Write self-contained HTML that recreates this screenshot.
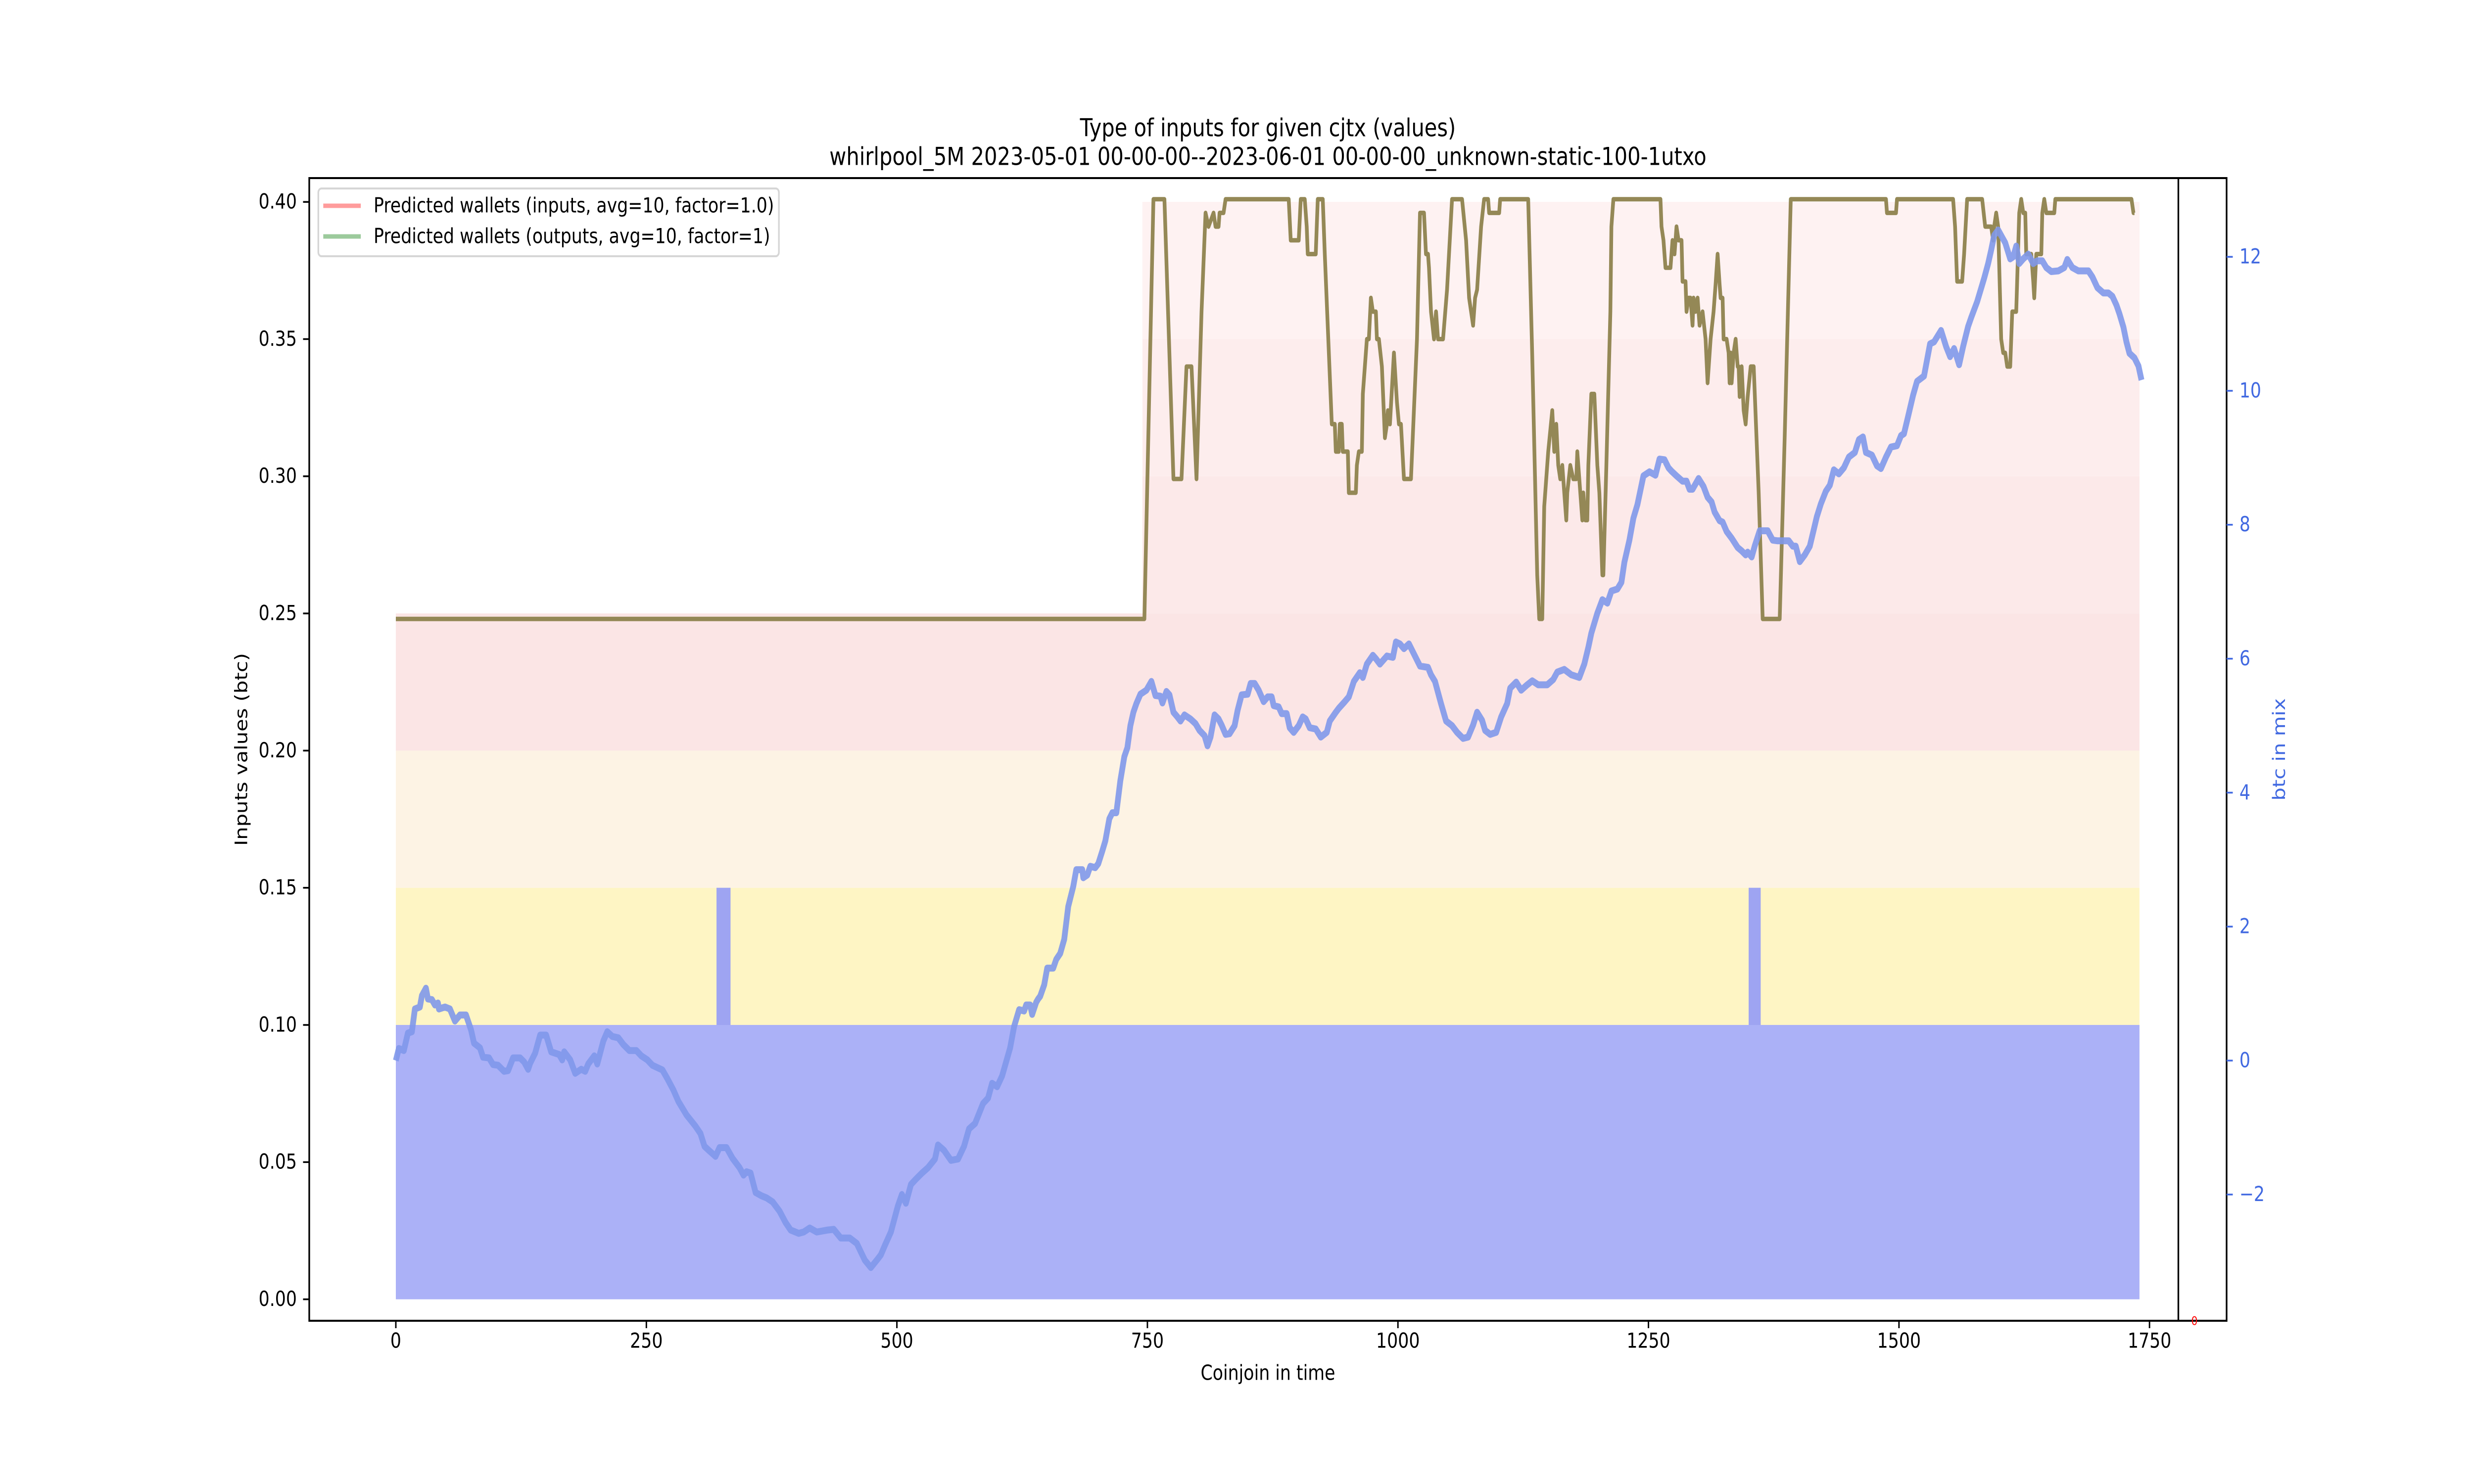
<!DOCTYPE html>
<html><head><meta charset="utf-8"><title>Type of inputs for given cjtx (values)</title>
<style>html,body{margin:0;padding:0;background:#fff;overflow:hidden;width:100%;height:100%}svg{display:block;width:100vw;height:100vh}text{font-family:"DejaVu Sans","Liberation Sans",sans-serif}</style>
</head><body>
<svg id="chart" xmlns="http://www.w3.org/2000/svg" viewBox="0 0 6000 3000" preserveAspectRatio="none">
<rect x="0" y="0" width="6000" height="3000" fill="#fff"/>
<g id="bars"></g>
<g id="lines"></g>
<g id="axes"></g>
<g>
<text x="3075" y="262" font-size="50" text-anchor="middle" dominant-baseline="middle">Type of inputs for given cjtx (values)</text>
<text x="3075" y="320" font-size="50" text-anchor="middle" dominant-baseline="middle">whirlpool_5M 2023-05-01 00-00-00--2023-06-01 00-00-00_unknown-static-100-1utxo</text>
</g>
<text x="3075" y="2778" font-size="41.7" text-anchor="middle" dominant-baseline="middle">Coinjoin in time</text>
<text x="0" y="0" font-size="41.7" text-anchor="middle" dominant-baseline="middle" transform="translate(588,1515) rotate(-90)">Inputs values (btc)</text>
<text x="0" y="0" font-size="41.7" fill="#4169e1" text-anchor="middle" dominant-baseline="middle" transform="translate(5530,1515) rotate(-90)">btc in mix</text>
<g>
<rect x="772" y="381" width="1117" height="137" rx="8" fill="#fff" fill-opacity="0.8" stroke="#d6d6d6" stroke-width="4"/>
<g>
<line x1="784" y1="416" x2="875" y2="416" stroke="#ff9c9c" stroke-width="9"/>
<text x="906" y="418" font-size="41.7" dominant-baseline="middle">Predicted wallets (inputs, avg=10, factor=1.0)</text>
</g>
<g>
<line x1="784" y1="478" x2="875" y2="478" stroke="#9cca9c" stroke-width="9"/>
<text x="906" y="480" font-size="41.7" dominant-baseline="middle">Predicted wallets (outputs, avg=10, factor=1)</text>
</g>
</g>
</svg>
<script>
// ---- data ----
const xTicks = [0, 250, 500, 750, 1000, 1250, 1500, 1750];
const yTicks = [0.00, 0.05, 0.10, 0.15, 0.20, 0.25, 0.30, 0.35, 0.40];
const y2Ticks = [-2, 0, 2, 4, 6, 8, 10, 12];
const barBottoms = [0.00, 0.10, 0.15, 0.20, 0.25, 0.30, 0.35];
const barTops = [0.10, 0.15, 0.20, 0.25, 0.30, 0.35, 0.40];
const barStarts = [0, 0, 0, 0, 745, 745, 745];
const barEnds = [1740, 1740, 1740, 1740, 1740, 1740, 1740];
const extraBarStarts = [320, 1350];
const extraBarEnds = [334, 1362];
const extraBarBottoms = [0.10, 0.10];
const extraBarTops = [0.15, 0.15];
const walletX = [0,747,756,767,776,784,789,794,799,804,808,811,816,818,821,822,826,828,891,893,901,903,907,909,910,918,919,920,925,927,934,937,938,941,942,944,945,950,951,958,959,961,964,965,969,971,973,975,978,979,981,984,987,989,990,992,996,999,1001,1003,1006,1013,1019,1022,1026,1028,1030,1031,1033,1036,1038,1040,1045,1049,1054,1064,1068,1071,1075,1077,1079,1083,1086,1090,1091,1101,1102,1130,1134,1139,1141,1144,1146,1150,1154,1156,1158,1160,1162,1164,1166,1168,1169,1172,1175,1178,1179,1182,1184,1185,1187,1189,1190,1193,1196,1199,1201,1204,1205,1208,1212,1213,1215,1262,1263,1265,1267,1272,1274,1276,1278,1280,1283,1284,1287,1288,1290,1292,1294,1295,1297,1299,1301,1304,1307,1309,1312,1315,1317,1319,1321,1322,1324,1325,1328,1330,1331,1332,1333,1335,1337,1339,1340,1341,1343,1345,1347,1349,1352,1355,1360,1364,1381,1386,1392,1487,1488,1497,1498,1554,1556,1558,1563,1565,1568,1583,1586,1592,1594,1595,1597,1599,1602,1604,1606,1608,1611,1613,1617,1620,1622,1624,1626,1627,1632,1634,1635,1637,1642,1643,1645,1647,1655,1656,1732,1734,1735];
const walletY = [.248,.248,.401,.401,.299,.299,.340,.340,.299,.360,.396,.391,.396,.391,.391,.396,.396,.401,.401,.386,.386,.401,.401,.391,.381,.381,.391,.401,.401,.381,.319,.319,.309,.309,.319,.319,.309,.309,.294,.294,.304,.309,.309,.330,.350,.350,.365,.360,.360,.350,.350,.340,.314,.319,.324,.319,.345,.327,.319,.319,.299,.299,.350,.396,.396,.381,.381,.376,.360,.350,.360,.350,.350,.368,.401,.401,.386,.365,.355,.365,.368,.391,.401,.401,.396,.396,.401,.401,.344,.264,.248,.248,.289,.309,.324,.309,.319,.304,.299,.304,.294,.284,.294,.304,.299,.299,.309,.294,.284,.294,.284,.284,.304,.330,.330,.304,.294,.264,.264,.304,.360,.391,.401,.401,.391,.386,.376,.376,.386,.381,.391,.386,.386,.371,.371,.360,.365,.365,.355,.365,.360,.365,.355,.360,.350,.334,.350,.360,.370,.381,.370,.365,.365,.350,.350,.345,.334,.345,.334,.345,.350,.340,.340,.329,.340,.324,.319,.329,.340,.340,.294,.248,.248,.315,.401,.401,.396,.396,.401,.401,.391,.371,.371,.381,.401,.401,.391,.391,.386,.391,.396,.391,.350,.345,.345,.340,.340,.360,.360,.396,.401,.396,.396,.381,.381,.371,.365,.381,.381,.396,.401,.396,.396,.401,.401,.396,.396];
const mixX = [0,3,8,12,16,19,24,26,30,32,36,39,42,43,49,54,59,64,70,75,78,84,87,93,97,102,108,112,117,124,128,132,134,139,144,150,155,163,166,168,174,179,185,189,192,198,201,207,211,216,222,227,233,240,245,251,256,266,271,277,282,290,299,304,308,313,319,323,330,336,343,347,350,354,359,365,370,376,383,389,394,402,407,413,420,431,437,444,453,460,468,474,481,484,488,494,501,505,509,514,519,525,531,538,541,547,554,561,567,572,578,586,591,595,600,605,613,617,622,627,629,633,635,639,641,643,647,650,656,659,663,667,671,676,679,685,686,690,693,698,701,705,708,712,715,719,723,727,730,733,736,739,743,749,754,758,763,765,769,772,776,780,783,787,793,798,802,807,810,813,817,821,824,828,832,837,840,844,850,853,857,861,866,870,874,876,881,884,889,892,896,901,905,908,912,918,923,929,932,938,941,947,951,956,962,965,969,975,978,982,989,995,998,1002,1006,1011,1017,1022,1030,1033,1037,1043,1048,1054,1059,1065,1070,1075,1079,1084,1087,1092,1098,1103,1109,1112,1118,1123,1129,1134,1140,1149,1155,1159,1166,1173,1181,1186,1190,1193,1199,1204,1209,1213,1219,1223,1226,1231,1235,1239,1245,1251,1257,1261,1266,1270,1273,1278,1284,1288,1291,1294,1300,1305,1309,1313,1316,1321,1324,1328,1333,1339,1343,1347,1349,1353,1356,1361,1369,1374,1379,1390,1394,1397,1401,1406,1411,1415,1418,1422,1427,1431,1435,1440,1445,1450,1456,1460,1464,1467,1473,1478,1482,1487,1492,1498,1502,1505,1509,1514,1518,1525,1531,1535,1542,1547,1551,1555,1560,1564,1569,1572,1578,1585,1589,1592,1595,1599,1603,1606,1611,1614,1617,1620,1624,1629,1634,1638,1643,1647,1652,1659,1665,1668,1673,1679,1689,1693,1698,1704,1709,1713,1717,1720,1724,1727,1730,1735,1739,1742];
const mixY = [0.0,0.18,0.15,0.41,0.43,0.77,0.80,0.97,1.08,0.92,0.91,0.83,0.86,0.77,0.80,0.77,0.59,0.68,0.68,0.46,0.26,0.19,0.05,0.04,-0.06,-0.07,-0.16,-0.15,0.04,0.04,-0.02,-0.13,-0.04,0.11,0.38,0.38,0.13,0.09,0.01,0.13,0.01,-0.19,-0.13,-0.16,-0.05,0.07,-0.05,0.29,0.43,0.36,0.34,0.24,0.15,0.15,0.07,0.01,-0.07,-0.14,-0.27,-0.44,-0.61,-0.81,-0.98,-1.09,-1.28,-1.35,-1.43,-1.30,-1.30,-1.46,-1.60,-1.71,-1.66,-1.68,-1.97,-2.02,-2.05,-2.11,-2.25,-2.42,-2.53,-2.58,-2.56,-2.50,-2.56,-2.53,-2.52,-2.65,-2.65,-2.73,-2.98,-3.09,-2.96,-2.90,-2.76,-2.56,-2.17,-2.00,-2.13,-1.85,-1.77,-1.68,-1.60,-1.47,-1.26,-1.34,-1.49,-1.47,-1.28,-1.02,-0.94,-0.64,-0.56,-0.34,-0.39,-0.23,0.19,0.51,0.76,0.74,0.83,0.83,0.69,0.87,0.92,0.96,1.13,1.38,1.38,1.51,1.60,1.81,2.30,2.60,2.85,2.85,2.73,2.77,2.90,2.88,2.94,3.13,3.28,3.61,3.70,3.70,4.18,4.54,4.67,5.00,5.20,5.33,5.47,5.53,5.66,5.45,5.44,5.34,5.51,5.46,5.20,5.13,5.07,5.16,5.10,5.03,4.93,4.85,4.70,4.83,5.16,5.10,5.01,4.87,4.88,5.00,5.23,5.46,5.47,5.63,5.63,5.53,5.36,5.43,5.43,5.30,5.28,5.18,5.18,4.97,4.90,5.00,5.13,5.10,4.97,4.95,4.83,4.90,5.07,5.20,5.26,5.36,5.43,5.66,5.79,5.72,5.92,6.05,6.00,5.92,6.04,6.02,6.25,6.22,6.15,6.22,6.04,5.89,5.87,5.76,5.66,5.33,5.07,5.00,4.90,4.81,4.83,5.01,5.20,5.08,4.93,4.87,4.90,5.13,5.33,5.56,5.65,5.53,5.61,5.67,5.61,5.61,5.69,5.80,5.84,5.76,5.72,5.92,6.17,6.38,6.68,6.88,6.83,7.01,7.04,7.14,7.44,7.77,8.10,8.30,8.73,8.79,8.74,8.98,8.97,8.85,8.80,8.73,8.65,8.65,8.53,8.53,8.69,8.57,8.41,8.34,8.19,8.06,8.04,7.90,7.80,7.66,7.61,7.55,7.59,7.52,7.68,7.91,7.91,7.77,7.76,7.76,7.68,7.68,7.45,7.55,7.68,7.93,8.12,8.31,8.50,8.59,8.82,8.76,8.85,9.01,9.08,9.27,9.31,9.08,9.04,8.88,8.84,9.01,9.16,9.18,9.33,9.36,9.61,9.93,10.14,10.22,10.70,10.73,10.90,10.66,10.51,10.63,10.39,10.66,10.96,11.09,11.33,11.68,11.90,12.10,12.32,12.40,12.29,12.21,11.97,12.00,12.16,11.90,11.97,12.04,11.90,11.94,11.94,11.84,11.78,11.79,11.84,11.96,11.84,11.79,11.79,11.70,11.54,11.46,11.46,11.41,11.28,11.15,10.95,10.73,10.56,10.49,10.37,10.16];

// ---- scales ----
const NS = 'http://www.w3.org/2000/svg';
const AX = {l: 750, r: 5400, t: 360, b: 2670};
function sx(c) { return 960 + c * 2.4303; }
function sy(v) { return 2626.6 - v * 5546; }
function sy2(v) { return 2144 - v * 135.4; }
function mk(tag, parent, attrs) {
  const e = document.createElementNS(NS, tag);
  for (const k in attrs) e.setAttribute(k, attrs[k]);
  parent.appendChild(e);
  return e;
}
const bars = document.getElementById('bars');
const lines = document.getElementById('lines');
const axes = document.getElementById('axes');
const barColors = ['#abb1f7', '#fef5c4', '#fdf3e4', '#fbe5e5', '#fce9e9', '#fdeded', '#fef2f2'];

for (let i = 0; i < barTops.length; i++) {
  const r = mk('rect', bars, {x: sx(barStarts[i]), y: sy(barTops[i]), width: sx(barEnds[i]) - sx(barStarts[i]), height: sy(barBottoms[i]) - sy(barTops[i]), fill: barColors[i]});
  
  
}
for (let i = 0; i < extraBarStarts.length; i++) {
  const r = mk('rect', bars, {x: sx(extraBarStarts[i]), y: sy(extraBarTops[i]), width: sx(extraBarEnds[i]) - sx(extraBarStarts[i]), height: sy(extraBarBottoms[i]) - sy(extraBarTops[i]), fill: '#9ea4f2'});
  
  
}

// lines
let d = '';
for (let i = 0; i < walletX.length; i++) d += (i ? 'L' : 'M') + sx(walletX[i]).toFixed(1) + ' ' + sy(walletY[i]).toFixed(1);
const wl = mk('path', lines, {d: d, fill: 'none', stroke: '#948856', 'stroke-width': 9, 'stroke-linejoin': 'round'});


let d2 = '';
for (let i = 0; i < mixX.length; i++) d2 += (i ? 'L' : 'M') + sx(mixX[i]).toFixed(1) + ' ' + sy2(mixY[i]).toFixed(1);
const ml = mk('path', lines, {d: d2, fill: 'none', stroke: '#7f98ea', 'stroke-opacity': 0.9, 'stroke-width': 14, 'stroke-linejoin': 'round'});



// axes frame
const fr = mk('rect', axes, {x: AX.l, y: AX.t, width: AX.r - AX.l, height: AX.b - AX.t, fill: 'none', stroke: '#000', 'stroke-width': 4});


const inner = mk('line', axes, {x1: 5283, y1: AX.t, x2: 5283, y2: AX.b, stroke: '#000', 'stroke-width': 4});


const rz = mk('text', axes, {x: 5322, y: 2672, 'font-size': 24, fill: '#ff0000', 'text-anchor': 'middle', 'dominant-baseline': 'middle'});
rz.textContent = '0';



for (const t of xTicks) {
  const x = sx(t);
  const tk = mk('line', axes, {x1: x, y1: AX.b, x2: x, y2: AX.b + 15, stroke: '#000', 'stroke-width': 3.5});
  
  
  const lb = mk('text', axes, {x: x, y: 2713, 'font-size': 41.7, 'text-anchor': 'middle', 'dominant-baseline': 'middle'});
  lb.textContent = String(t);
  
  
}
for (const t of yTicks) {
  const y = sy(t);
  const tk = mk('line', axes, {x1: AX.l - 15, y1: y, x2: AX.l, y2: y, stroke: '#000', 'stroke-width': 3.5});
  
  
  const lb = mk('text', axes, {x: 720, y: y + 2, 'font-size': 41.7, 'text-anchor': 'end', 'dominant-baseline': 'middle'});
  lb.textContent = t.toFixed(2);
  
  
}
for (const t of y2Ticks) {
  const y = sy2(t);
  const tk = mk('line', axes, {x1: AX.r, y1: y, x2: AX.r + 15, y2: y, stroke: '#4169e1', 'stroke-width': 3.5});
  
  
  const lb = mk('text', axes, {x: 5431, y: y + 2, 'font-size': 41.7, fill: '#4169e1', 'text-anchor': 'start', 'dominant-baseline': 'middle'});
  lb.textContent = t < 0 ? '\u2212' + Math.abs(t) : String(t);
  
  
}
</script>
</body></html>
